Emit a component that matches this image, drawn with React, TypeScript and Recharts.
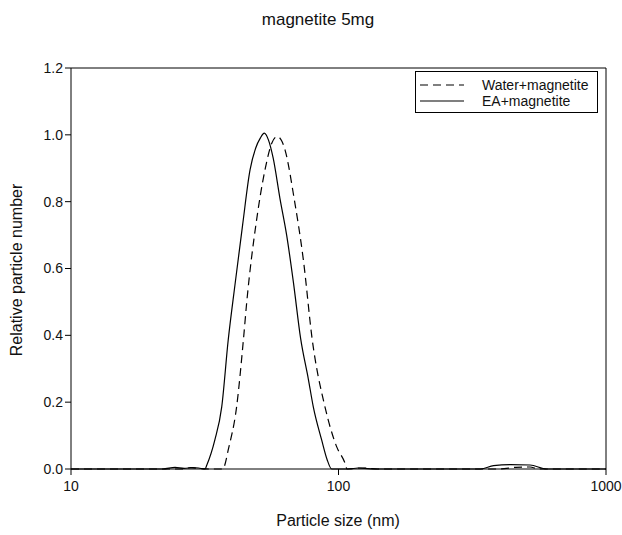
import { LineChart, Line, XAxis, YAxis, ReferenceLine } from 'recharts';

// particle size (nm) and relative particle number
const EA_SIZE = [10, 22, 24.5, 26.5, 28.5, 30, 31.7, 32.2, 34.5, 36.6, 38.7, 41.0, 43.8, 46.7, 49.0, 51.0, 52.8, 54.7, 57.0, 60.4, 64.0, 67.8, 72.2, 77.1, 80.5, 86.5, 90.5, 94.3, 110, 118, 125, 135, 300, 340, 380, 440, 520, 600, 1000];
const EA_VALUE = [0, 0, 0.005, 0.002, 0.004, 0.003, 0, 0.012, 0.087, 0.186, 0.386, 0.55, 0.73, 0.895, 0.96, 0.99, 1.005, 0.985, 0.93, 0.81, 0.7, 0.56, 0.39, 0.27, 0.186, 0.087, 0.03, 0, 0, 0.003, 0.002, 0, 0, 0, 0.01, 0.013, 0.012, 0, 0];

const WATER_SIZE = [10, 26, 28, 30, 33, 37.0, 37.4, 38.7, 41.6, 44.1, 45.4, 49.4, 53.1, 56.3, 59.0, 61.5, 63.1, 68.4, 73.9, 79.8, 89.0, 98.4, 105.7, 107.6, 120, 130, 140, 400, 460, 520, 560, 1000];
const WATER_VALUE = [0, 0, 0.004, 0.002, 0, 0, 0.007, 0.057, 0.186, 0.386, 0.5, 0.745, 0.895, 0.975, 0.995, 0.98, 0.955, 0.805, 0.626, 0.386, 0.186, 0.067, 0.018, 0, 0.003, 0.002, 0, 0, 0.005, 0.006, 0, 0];

const X_TICKS = [10, 100, 1000];
const Y_TICKS = [0, 0.2, 0.4, 0.6, 0.8, 1.0, 1.2];

const FONT = '"Liberation Sans", Arial, sans-serif';

const eaData = EA_SIZE.map((size, i) => ({ size, value: EA_VALUE[i] }));
const waterData = WATER_SIZE.map((size, i) => ({ size, value: WATER_VALUE[i] }));

function LegendBox() {
  const rows = [
    { label: 'Water+magnetite', dash: '8 5' },
    { label: 'EA+magnetite', dash: undefined },
  ];
  return (
    <div
      style={{
        position: 'absolute',
        top: 71,
        left: 415,
        border: '1px solid #000',
        background: '#fff',
        width: 183,
        height: 42,
        boxSizing: 'border-box',
        paddingTop: 5,
        fontSize: 14,
        color: '#111',
      }}
    >
      {rows.map((r) => (
        <div key={r.label} style={{ display: 'flex', alignItems: 'center', height: 16 }}>
          <svg width={60} height={10} style={{ marginLeft: 4 }}>
            <line x1={0} y1={5} x2={44} y2={5} stroke="#000" strokeWidth={1.2} strokeDasharray={r.dash} />
          </svg>
          <span style={{ marginLeft: 2 }}>{r.label}</span>
        </div>
      ))}
    </div>
  );
}

export default function App() {
  return (
    <div style={{ position: 'relative', width: 622, height: 535, background: '#fff', fontFamily: FONT }}>
      <style>{'body{margin:0}'}</style>
      <div style={{ position: 'absolute', top: 10, left: 0, width: 636, textAlign: 'center', fontSize: 17, color: '#111' }}>
        magnetite 5mg
      </div>
      <LineChart width={622} height={535} margin={{ top: 68, right: 16, bottom: 36, left: 21 }}>
        <XAxis
          dataKey="size"
          type="number"
          scale="log"
          domain={[10, 1000]}
          ticks={X_TICKS}
          allowDataOverflow
          height={30}
          stroke="#000"
          tickSize={6}
          tick={{ fill: '#111', fontSize: 14, fontFamily: FONT }}
          tickMargin={6}
        />
        <YAxis
          type="number"
          domain={[0, 1.2]}
          ticks={Y_TICKS}
          width={50}
          stroke="#000"
          tickSize={6}
          tickFormatter={(v: number) => v.toFixed(1)}
          tick={{ fill: '#111', fontSize: 14, fontFamily: FONT }}
        />
        <ReferenceLine y={1.2} stroke="#000" />
        <ReferenceLine x={1000} stroke="#000" />
        <Line
          data={waterData}
          dataKey="value"
          type="monotone"
          stroke="#000"
          strokeWidth={1.2}
          strokeDasharray="8 5"
          dot={false}
          isAnimationActive={false}
        />
        <Line
          data={eaData}
          dataKey="value"
          type="monotone"
          stroke="#000"
          strokeWidth={1.2}
          dot={false}
          isAnimationActive={false}
        />
      </LineChart>
      <LegendBox />
      <div style={{ position: 'absolute', top: 512, left: 238, width: 200, textAlign: 'center', fontSize: 16, color: '#111' }}>
        Particle size (nm)
      </div>
      <div
        style={{
          position: 'absolute',
          left: 17,
          top: 270,
          transform: 'translate(-50%, -50%) rotate(-90deg)',
          whiteSpace: 'nowrap',
          fontSize: 16,
          color: '#111',
        }}
      >
        Relative particle number
      </div>
    </div>
  );
}
